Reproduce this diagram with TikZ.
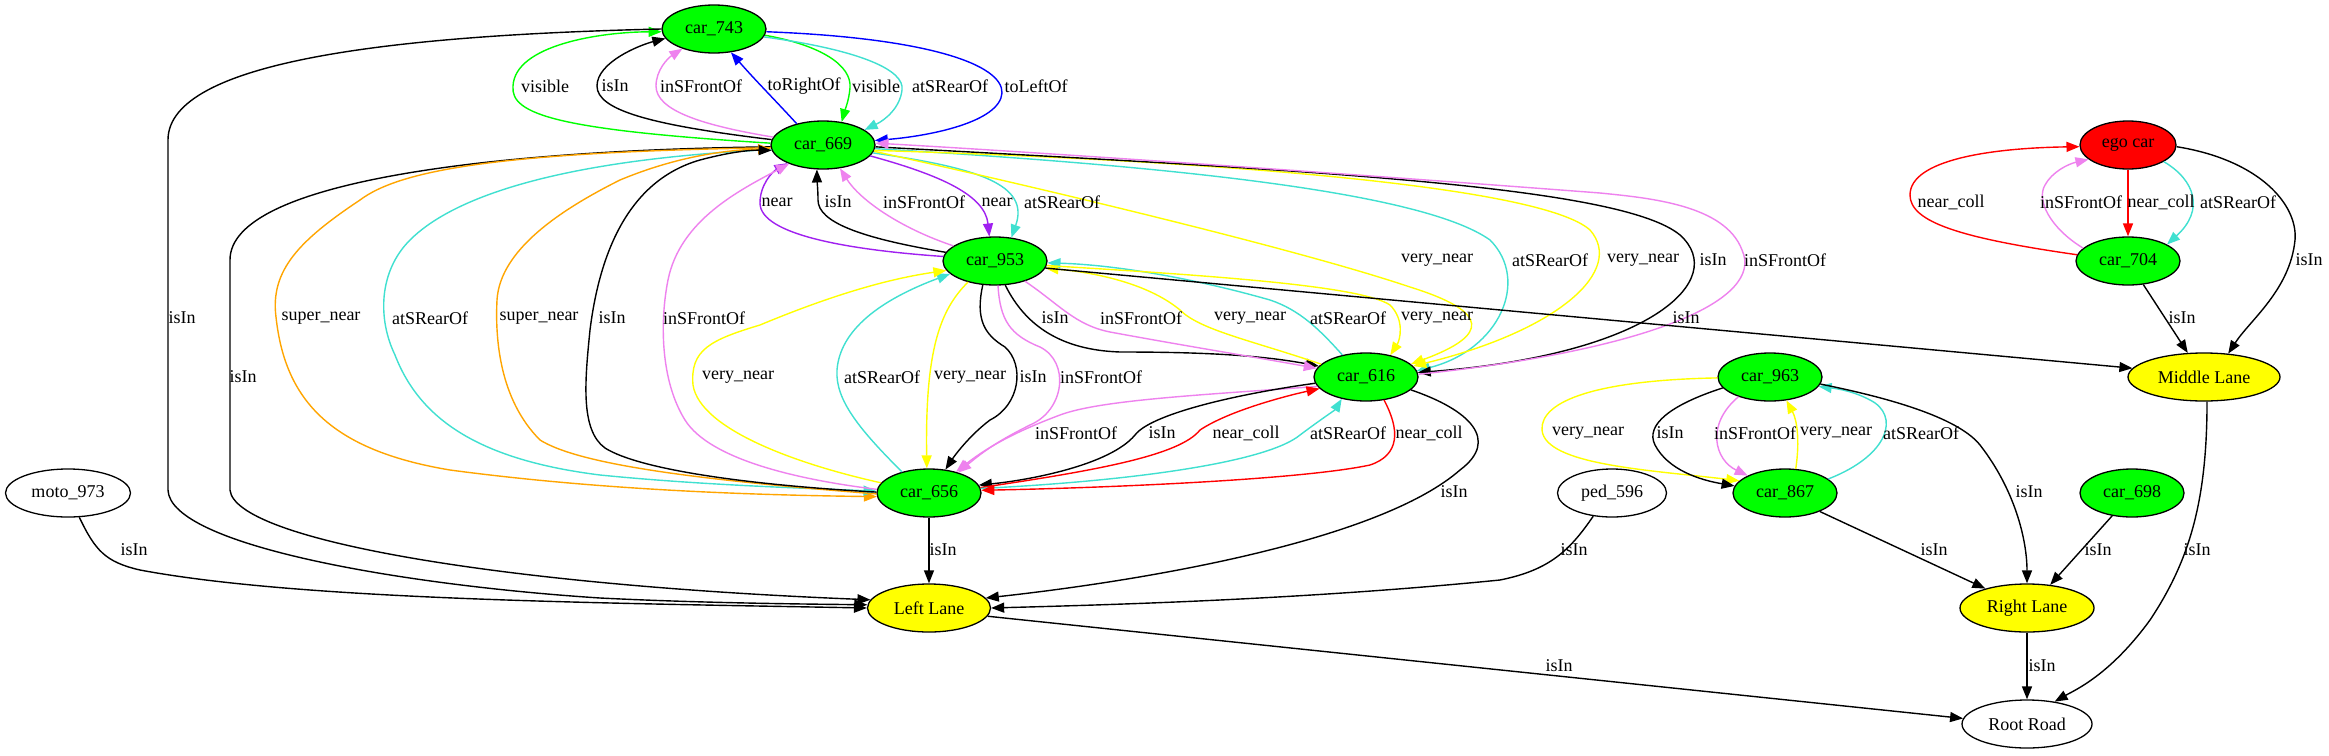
\documentclass[tikz,border=0pt]{standalone}
\usepackage{fontspec}
\setmainfont{Liberation Serif}
\usetikzlibrary{shapes.geometric,arrows.meta}
\definecolor{cgreen}{HTML}{00FF00}
\definecolor{cyellow}{HTML}{FFFF00}
\definecolor{cred}{HTML}{FF0000}
\definecolor{cturq}{HTML}{40E0D0}
\definecolor{cviolet}{HTML}{EE82EE}
\definecolor{cpurple}{HTML}{A020F0}
\definecolor{corange}{HTML}{FFA500}
\definecolor{cblue}{HTML}{0000FF}
\newcommand{\gvfont}{\fontsize{18}{20}\selectfont}
\begin{document}
\begin{tikzpicture}[x=1pt,y=-1pt,
 nd/.style={ellipse,draw=black,line width=1.3pt,minimum height=48pt,inner sep=0pt,font=\gvfont},
 carn/.style={nd,fill=cgreen,minimum width=104pt},
 lanen/.style={nd,fill=cyellow},
 edge/.style={line width=1.4pt,-{Triangle[length=13pt,width=10pt]}},
 lbl/.style={inner sep=0pt,font=\gvfont},
]
\useasboundingbox (0,0) rectangle (2329,755);
\fill[white] (0,0) rectangle (2329,755);
% nodes
\node[carn] (n743) at (714,29) {car\_743};
\node[carn] (n669) at (823,145) {car\_669};
\node[carn] (n953) at (995,261) {car\_953};
\node[carn] (n616) at (1366,377) {car\_616};
\node[carn] (n656) at (929,493) {car\_656};
\node[lanen,minimum width=123pt] (left) at (929,608) {Left Lane};
\node[nd,minimum width=130pt] (root) at (2027,724) {Root Road};
\node[nd,fill=cred,minimum width=96pt] (ego) at (2128,145) {ego car};
\node[carn] (n704) at (2128,261) {car\_704};
\node[lanen,minimum width=152pt] (mid) at (2204,377) {Middle Lane};
\node[carn] (n963) at (1770,377) {car\_963};
\node[carn] (n867) at (1785,493) {car\_867};
\node[nd,minimum width=109pt] (ped) at (1612,493) {ped\_596};
\node[carn] (n698) at (2132,493) {car\_698};
\node[nd,minimum width=125pt] (moto) at (68,493) {moto\_973};
\node[lanen,minimum width=134pt] (right) at (2027,608) {Right Lane};

% car_669 <-> car_743
\draw[edge,cgreen] (n669.178) .. controls (560,130) and (510,115) .. (513,86) .. controls (515,45) and (600,32) .. (n743.183);
\draw[edge,black] (n669.174) .. controls (650,125) and (597,110) .. (597,86) .. controls (597,62) and (640,45) .. (n743.191);
\draw[edge,cviolet] (n669.171) .. controls (700,125) and (656,110) .. (656,86) .. controls (656,70) and (668,58) .. (n743.212);
\draw[edge,cblue] (n669.141) .. controls (775,100) and (755,80) .. (n743.306);
\draw[edge,cgreen] (n743.353) .. controls (820,45) and (852,65) .. (850,88) .. controls (849,100) and (845,110) .. (n669.51);
\draw[edge,cturq] (n743.351) .. controls (860,50) and (905,70) .. (902,90) .. controls (900,108) and (885,120) .. (n669.20);
\draw[edge,cblue] (n743.357) .. controls (930,38) and (1003,65) .. (1002,93) .. controls (1000,122) and (930,136) .. (n669.5);
% car_669 <-> car_953
\draw[edge,cpurple] (n953.175) .. controls (850,250) and (760,235) .. (760,203) .. controls (760,185) and (772,172) .. (n669.207);
\draw[edge,black] (n953.170) .. controls (860,238) and (818,222) .. (818,200) .. controls (818,190) and (817,180) .. (n669.256);
\draw[edge,cviolet] (n953.160) .. controls (900,228) and (860,200) .. (n669.306);
\draw[edge,cpurple] (n669.347) .. controls (940,175) and (985,195) .. (n953.103);
\draw[edge,cturq] (n669.351) .. controls (980,168) and (1030,185) .. (n953.55);
% car_669 <-> car_616
\draw[edge,cyellow] (n669.353) .. controls (1050,190) and (1300,250) .. (1410,287) .. controls (1490,312) and (1490,335) .. (n616.16);
\draw[edge,cturq] (n669.356) .. controls (1150,165) and (1420,190) .. (1490,240) .. controls (1530,280) and (1500,350) .. (n616.7);
\draw[edge,cyellow] (n669.354) .. controls (1200,160) and (1540,185) .. (1590,230) .. controls (1625,270) and (1560,330) .. (n616.13);
\draw[edge,black] (n669.358) .. controls (1300,170) and (1620,185) .. (1680,235) .. controls (1730,280) and (1650,355) .. (n616.5);
\draw[edge,cviolet] (n616.3) .. controls (1650,350) and (1765,300) .. (1742,250) .. controls (1725,205) and (1650,198) .. (1600,193) .. controls (1300,170) and (1000,150) .. (n669.2);
% car_953 <-> car_616
\draw[edge,black] (n953.293) .. controls (1025,325) and (1060,350) .. (1120,352) .. controls (1200,352) and (1260,355) .. (n616.167);
\draw[edge,cviolet] (n953.326) .. controls (1060,305) and (1075,325) .. (1110,332) .. controls (1180,345) and (1260,358) .. (n616.170);
\draw[edge,cyellow] (n616.164) .. controls (1250,340) and (1200,330) .. (1180,310) .. controls (1150,285) and (1100,273) .. (n953.352);
\draw[edge,cturq] (n616.137) .. controls (1320,330) and (1300,310) .. (1270,300) .. controls (1200,280) and (1120,265) .. (n953.358);
\draw[edge,cyellow] (n953.355) .. controls (1200,275) and (1360,285) .. (1390,305) .. controls (1405,320) and (1400,340) .. (n616.42);
\draw[edge,black] (n953.352) -- (mid.173);
% car_953 / car_616 -> car_656
\draw[edge,cviolet] (n953.277) .. controls (1000,320) and (1010,335) .. (1040,347) .. controls (1070,362) and (1065,410) .. (1030,425) .. controls (1000,440) and (985,450) .. (n656.35);
\draw[edge,cviolet] (n616.191) .. controls (1200,395) and (1100,400) .. (1060,415) .. controls (1020,430) and (990,445) .. (n656.38);
\draw[edge,black] (n616.187) .. controls (1230,395) and (1150,415) .. (1135,435) .. controls (1110,465) and (1030,480) .. (n656.9);
\draw[edge,cred] (n656.6) .. controls (1100,470) and (1180,455) .. (1200,430) .. controls (1230,410) and (1290,395) .. (n616.194);
\draw[edge,cturq] (n656.5) .. controls (1150,480) and (1270,460) .. (1300,435) .. controls (1320,420) and (1335,410) .. (n616.222);
\draw[edge,cred] (n616.308) .. controls (1400,430) and (1400,455) .. (1370,465) .. controls (1300,480) and (1100,488) .. (n656.3);
\draw[edge,black] (n616.344) .. controls (1470,410) and (1500,440) .. (1460,470) .. controls (1380,540) and (1150,580) .. (left.10);
\draw[edge,cturq] (n656.142) .. controls (860,430) and (835,400) .. (837,370) .. controls (840,330) and (880,300) .. (n953.196);
\draw[edge,cyellow] (n953.218) .. controls (940,310) and (925,350) .. (n656.95);
\draw[edge,black] (n953.243) .. controls (975,320) and (985,335) .. (1005,347) .. controls (1025,365) and (1020,405) .. (990,420) .. controls (970,435) and (955,455) .. (n656.55);
% left side
\draw[edge,black] (n743.180) .. controls (400,35) and (168,60) .. (168,140) -- (168,490) .. controls (170,545) and (400,585) .. (600,598) .. controls (700,603) and (800,604) .. (left.177);
\draw[edge,black] (n669.182) .. controls (500,150) and (230,180) .. (230,260) -- (230,490) .. controls (235,540) and (500,585) .. (left.172);
\draw[edge,corange] (n669.183) .. controls (500,152) and (400,170) .. (360,200) .. controls (300,240) and (270,270) .. (276,317) .. controls (285,400) and (330,450) .. (450,470) .. controls (600,490) and (750,495) .. (n656.184);
\draw[edge,cturq] (n669.185) .. controls (550,160) and (450,200) .. (410,240) .. controls (378,272) and (378,320) .. (395,355) .. controls (420,420) and (480,460) .. (600,475) .. controls (700,485) and (800,488) .. (n656.178);
\draw[edge,corange] (n656.181) .. controls (700,480) and (580,465) .. (540,440) .. controls (500,400) and (495,340) .. (497,300) .. controls (500,250) and (560,210) .. (620,180) .. controls (680,155) and (730,150) .. (n669.184);
\draw[edge,black] (n656.179) .. controls (750,485) and (640,470) .. (605,448) .. controls (580,430) and (585,380) .. (590,330) .. controls (600,250) and (630,180) .. (700,160) .. controls (730,152) and (750,150) .. (n669.186);
\draw[edge,cviolet] (n656.176) .. controls (800,480) and (710,460) .. (685,420) .. controls (660,380) and (660,320) .. (668,280) .. controls (680,220) and (740,190) .. (n669.209);
\draw[edge,cyellow] (n656.168) .. controls (800,465) and (700,430) .. (693,385) .. controls (690,350) and (710,340) .. (760,325) .. controls (820,300) and (880,280) .. (n953.191);
\draw[edge,black] (n656.270) -- (left.90);
\draw[edge,black] (moto.295) .. controls (95,550) and (105,562) .. (140,570) .. controls (300,600) and (600,603) .. (left.180);
\draw[edge,black] (ped.231) .. controls (1570,550) and (1550,570) .. (1500,580) .. controls (1300,600) and (1100,605) .. (left.0);
\draw[edge,black] (left.352) -- (root.175);
% ego car group
\draw[edge,cred] (ego.270) -- (n704.90);
\draw[edge,cred] (n704.173) .. controls (1960,238) and (1910,222) .. (1910,195) .. controls (1910,160) and (1990,148) .. (ego.182);
\draw[edge,cviolet] (n704.164) .. controls (2050,228) and (2036,200) .. (2045,185) .. controls (2052,172) and (2068,164) .. (ego.200);
\draw[edge,cturq] (ego.335) .. controls (2195,180) and (2205,210) .. (n704.23);
\draw[edge,black] (ego.358) .. controls (2260,160) and (2298,205) .. (2295,240) .. controls (2290,290) and (2250,320) .. (mid.44);
\draw[edge,black] (n704.303) -- (mid.124);
\draw[edge,black] (mid.277) .. controls (2207,500) and (2190,560) .. (2150,620) .. controls (2110,675) and (2075,690) .. (root.39);
% car_963 / car_867 group
\draw[edge,cyellow] (n963.181) .. controls (1600,380) and (1540,400) .. (1542,430) .. controls (1545,465) and (1650,470) .. (n867.165);
\draw[edge,black] (n963.193) .. controls (1670,405) and (1645,425) .. (1655,445) .. controls (1668,470) and (1700,480) .. (n867.172);
\draw[edge,cviolet] (n963.212) .. controls (1705,425) and (1715,460) .. (n867.155);
\draw[edge,cyellow] (n867.66) .. controls (1800,440) and (1797,420) .. (n963.305);
\draw[edge,cturq] (n867.18) .. controls (1890,455) and (1900,415) .. (1870,400) .. controls (1855,392) and (1840,389) .. (n963.349);
\draw[edge,black] (n963.352) .. controls (1900,400) and (1960,420) .. (1980,445) .. controls (2015,490) and (2027,540) .. (right.90);
\draw[edge,black] (n867.332) -- (right.155);
\draw[edge,black] (n698.229) -- (right.45);
\draw[edge,black] (right.270) -- (root.90);

% labels row 86
\node[lbl] (t1) at (545,86) {visible};
\node[lbl] (t2) at (615,86) {isIn};
\node[lbl] (t3) at (701,86) {inSFrontOf};
\node[lbl] (t4) at (804,86) {toRightOf};
\node[lbl] (t5) at (876,86) {visible};
\node[lbl] (t6) at (950,86) {atSRearOf};
\node[lbl] (t7) at (1036,86) {toLeftOf};
% row 202
\node[lbl] (t8) at (777,202) {near};
\node[lbl] (t9) at (838,202) {isIn};
\node[lbl] (t10) at (924,202) {inSFrontOf};
\node[lbl] (t11) at (997,202) {near};
\node[lbl] (t12) at (1062,202) {atSRearOf};
\node[lbl] (t13) at (1951,202) {near\_coll};
\node[lbl] (t14) at (2081,202) {inSFrontOf};
\node[lbl] (t15) at (2161,202) {near\_coll};
\node[lbl] (t16) at (2238,202) {atSRearOf};
% row 260
\node[lbl] (t17) at (1437,260) {very\_near};
\node[lbl] (t18) at (1550,260) {atSRearOf};
\node[lbl] (t19) at (1643,260) {very\_near};
\node[lbl] (t20) at (1713,260) {isIn};
\node[lbl] (t21) at (1785,260) {inSFrontOf};
\node[lbl] (t22) at (2309,260) {isIn};
% row 318
\node[lbl] (t23) at (182,318) {isIn};
\node[lbl] (t24) at (321,318) {super\_near};
\node[lbl] (t25) at (430,318) {atSRearOf};
\node[lbl] (t26) at (539,318) {super\_near};
\node[lbl] (t27) at (612,318) {isIn};
\node[lbl] (t28) at (704,318) {inSFrontOf};
\node[lbl] (t29) at (1055,318) {isIn};
\node[lbl] (t30) at (1141,318) {inSFrontOf};
\node[lbl] (t31) at (1250,318) {very\_near};
\node[lbl] (t32) at (1348,318) {atSRearOf};
\node[lbl] (t33) at (1437,318) {very\_near};
\node[lbl] (t34) at (1686,318) {isIn};
\node[lbl] (t35) at (2182,318) {isIn};
% row 377
\node[lbl] (t36) at (243,377) {isIn};
\node[lbl] (t37) at (738,377) {very\_near};
\node[lbl] (t38) at (882,377) {atSRearOf};
\node[lbl] (t39) at (970,377) {very\_near};
\node[lbl] (t40) at (1033,377) {isIn};
\node[lbl] (t41) at (1101,377) {inSFrontOf};
% row 433
\node[lbl] (t42) at (1076,433) {inSFrontOf};
\node[lbl] (t43) at (1162,433) {isIn};
\node[lbl] (t44) at (1246,433) {near\_coll};
\node[lbl] (t45) at (1348,433) {atSRearOf};
\node[lbl] (t46) at (1429,433) {near\_coll};
\node[lbl] (t47) at (1588,433) {very\_near};
\node[lbl] (t48) at (1670,433) {isIn};
\node[lbl] (t49) at (1755,433) {inSFrontOf};
\node[lbl] (t50) at (1836,433) {very\_near};
\node[lbl] (t51) at (1921,433) {atSRearOf};
% row 492
\node[lbl] (t52) at (1454,492) {isIn};
\node[lbl] (t53) at (2029,492) {isIn};
% row 550
\node[lbl] (t54) at (134,550) {isIn};
\node[lbl] (t55) at (943,550) {isIn};
\node[lbl] (t56) at (1574,550) {isIn};
\node[lbl] (t57) at (1934,550) {isIn};
\node[lbl] (t58) at (2098,550) {isIn};
\node[lbl] (t59) at (2197,550) {isIn};
% row 666
\node[lbl] (t60) at (1559,666) {isIn};
\node[lbl] (t61) at (2042,666) {isIn};
\end{tikzpicture}
\end{document}
